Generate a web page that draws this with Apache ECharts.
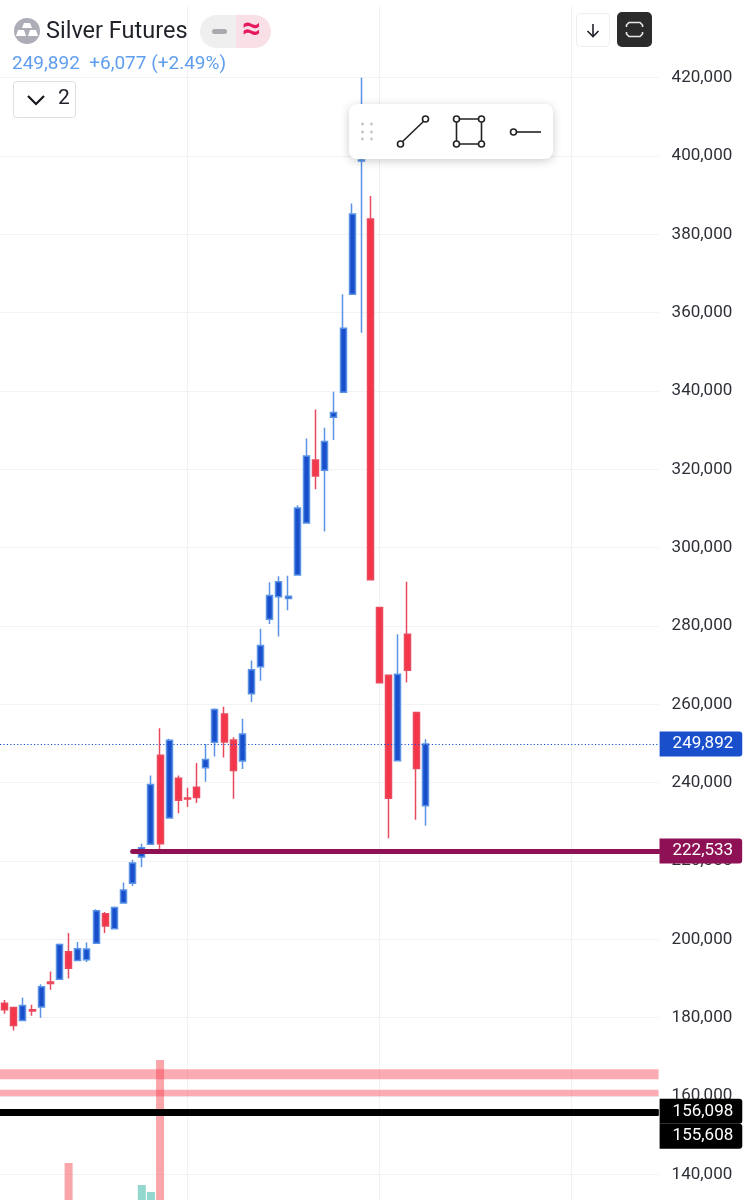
<!DOCTYPE html>
<html>
<head>
<meta charset="utf-8">
<title>Silver Futures</title>
<style>
    html, body { margin: 0; padding: 0; background: #fff; }
    #chart { width: 750px; height: 1200px; }
</style>
<script src="https://cdn.jsdelivr.net/npm/echarts@6/dist/echarts.min.js"></script>
</head>
<body>
<div id="chart"></div>
<script>
var candleOpen = [183700, 182600, 179300, 182000, 182700, 189100, 189800, 196800, 194600, 194800, 199000, 206500, 202700, 209300, 214300, 221000,
    224300, 247000, 231000, 241100, 236100, 238800, 243800, 250300, 257500, 250900, 245500,
    262700, 269600, 281700, 287500, 287000, 293000, 306300, 322400, 319800, 333300,
    339700, 364700, 398700, 383900, 284700, 267400, 245600, 277900, 257900, 234100];
var candleClose = [182000, 178000, 183100, 181700, 187900, 188700, 198700, 192600, 197600, 197500, 207300, 203400, 208100, 212600, 219500, 223400,
    239500, 224400, 250800, 235500, 235800, 236200, 245900, 258700, 250400, 243100, 252400,
    268800, 275000, 287800, 291300, 287600, 310100, 323400, 318300, 327100, 334500,
    356000, 385200, 399000, 291800, 265500, 236000, 267700, 268700, 243600, 249892];
var candleLow = [181000, 176700, 179300, 180500, 180000, 187100, 189800, 190000, 194600, 194200, 199000, 201600, 202700, 209300, 213600, 218400,
    224300, 222400, 231000, 232200, 233800, 234800, 240200, 246700, 246400, 235900, 243500,
    260600, 266000, 280500, 277300, 284000, 293000, 306300, 314900, 304100, 327500,
    339700, 364700, 354900, 291800, 265500, 225800, 245600, 265600, 230500, 229000];
var candleHigh = [184500, 182600, 185100, 183300, 188500, 191800, 198900, 201600, 199300, 199200, 207700, 207000, 208400, 214500, 220300, 224400,
    241800, 253900, 251200, 241800, 238700, 245000, 249900, 259000, 259400, 251600, 256300,
    271200, 279300, 291200, 292700, 292800, 310800, 327900, 335300, 330600, 339800,
    364700, 387900, 420000, 389800, 284700, 267400, 277900, 291300, 257900, 251100];

// only the volume bars that reach into the picture
var volumeIndex = [7, 15, 16, 17];
var volumeValue = [37, 15, 8, 140];

var lastPrice = 249892;
var purpleLevel = 222533;
var blackLevels = [156098, 155608];
var pinkBands = [[166800, 164300], [161600, 159900]];
var timeGridIndex = [20, 41, 62];

var slotCount = 72;
var categories = [];
for (var i = 0; i < slotCount; i++) categories.push('' + (i + 1));

var candleData = [];
for (var i = 0; i < candleOpen.length; i++) {
    candleData.push([candleOpen[i], candleClose[i], candleLow[i], candleHigh[i]]);
}

var volumeData = [];
for (var i = 0; i < slotCount; i++) volumeData.push(null);
for (var i = 0; i < volumeIndex.length; i++) {
    var idx = volumeIndex[i];
    volumeData[idx] = {
        value: volumeValue[i],
        itemStyle: { color: candleClose[idx] >= candleOpen[idx] ? 'rgba(120,205,195,0.8)' : 'rgba(245,100,108,0.58)' }
    };
}

function fmt(v) {
    return v.toLocaleString('en-US');
}

function priceTag(v, bg, offset) {
    return {
        show: true,
        position: 'end',
        distance: 1,
        offset: offset || [0, 0],
        formatter: fmt(v),
        color: '#fff',
        fontFamily: 'Roboto',
        fontSize: 17,
        lineHeight: 17,
        backgroundColor: bg,
        borderRadius: [0, 3, 3, 0],
        padding: [4, 9, 4, 13]
    };
}

// time grid lines sit on the volume grid, it is the one that spans the whole height
var timeLines = [];
for (var i = 0; i < timeGridIndex.length; i++) {
    timeLines.push({ xAxis: categories[timeGridIndex[i]] });
}

var levelLines = [];
levelLines.push({ yAxis: lastPrice, lineStyle: { color: '#1b4fd0', width: 1.2, type: [1.2, 2.2] }, label: priceTag(lastPrice, '#1a4fcc') });
levelLines.push([
    { xAxis: categories[14], yAxis: purpleLevel, lineStyle: { color: '#8f1155', width: 5, type: 'solid', cap: 'round' }, label: priceTag(purpleLevel, '#8f1155') },
    { x: '87.8%', yAxis: purpleLevel }
]);
levelLines.push({ yAxis: blackLevels[0], lineStyle: { color: '#000', width: 6, type: 'solid' }, label: priceTag(blackLevels[0], '#000') });
levelLines.push({ yAxis: blackLevels[1], lineStyle: { color: '#000', width: 6, type: 'solid' }, label: priceTag(blackLevels[1], '#000', [0, 23]) });

var bandAreas = [];
for (var i = 0; i < pinkBands.length; i++) {
    bandAreas.push([{ yAxis: pinkBands[i][0] }, { yAxis: pinkBands[i][1] }]);
}

var chart = echarts.init(document.getElementById('chart'));

var option = {
    animation: false,
    backgroundColor: '#fff',
    title: [
        {
            text: 'Silver Futures',
            left: 46,
            top: 20,
            padding: 0,
            textStyle: { fontFamily: 'Roboto', fontSize: 23.5, fontWeight: 'normal', color: '#1f2229' }
        },
        {
            text: '249,892  +6,077 (+2.49%)',
            left: 12,
            top: 55,
            padding: 0,
            textStyle: { fontFamily: 'Roboto', fontSize: 19, fontWeight: 'normal', color: '#5f9eee' }
        }
    ],
    grid: [
        { left: -1.6, width: 660.2, top: 77.7, height: 1096.6 },
        { left: -1.6, width: 660.2, top: 6, height: 1194 }
    ],
    xAxis: [
        { type: 'category', data: categories, show: false, gridIndex: 0 },
        { type: 'category', data: categories, show: false, gridIndex: 1 }
    ],
    yAxis: [
        {
            type: 'value',
            gridIndex: 0,
            position: 'right',
            min: 140000,
            max: 420000,
            interval: 20000,
            axisLine: { show: false },
            axisTick: { show: false },
            splitLine: { show: true, lineStyle: { color: '#f2f3f5', width: 1 } },
            axisLabel: {
                margin: 13,
                color: '#2e3038',
                fontFamily: 'Roboto',
                fontSize: 17,
                padding: [0, 0, 3, 0],
                formatter: function (v) { return fmt(v); }
            }
        },
        { type: 'value', gridIndex: 1, min: 0, max: 1194, show: false }
    ],
    series: [
        {
            type: 'bar',
            name: 'Volume',
            xAxisIndex: 1,
            yAxisIndex: 1,
            barWidth: 8,
            data: volumeData,
            z: 1,
            markLine: {
                silent: true,
                z: 0,
                symbol: ['none', 'none'],
                label: { show: false },
                lineStyle: { color: '#f1f2f4', width: 1, type: 'solid' },
                data: timeLines
            }
        },
        {
            type: 'candlestick',
            name: 'Silver Futures',
            xAxisIndex: 0,
            yAxisIndex: 0,
            barWidth: 6.5,
            z: 3,
            data: candleData,
            itemStyle: {
                color: '#1a4fcc',
                color0: '#f5364a',
                borderColor: '#5a93e6',
                borderColor0: '#e94a5e',
                borderWidth: 1.5
            },
            markArea: {
                silent: true,
                z: 2,
                itemStyle: { color: 'rgba(248,72,88,0.46)' },
                data: bandAreas
            },
            markLine: {
                silent: true,
                z: 5,
                symbol: ['none', 'none'],
                label: { show: false },
                data: levelLines
            }
        }
    ],
    graphic: [
        // symbol badge
        { type: 'circle', shape: { cx: 27, cy: 31, r: 13 }, style: { fill: '#adadb8' }, z: 20 },
        { type: 'polygon', shape: { points: [[24, 23], [30, 23], [32, 28], [22, 28]] }, style: { fill: '#fff' }, z: 21 },
        { type: 'polygon', shape: { points: [[18, 30], [24, 30], [26, 36], [16, 36]] }, style: { fill: '#fff' }, z: 21 },
        { type: 'polygon', shape: { points: [[30, 30], [36, 30], [38, 36], [28, 36]] }, style: { fill: '#fff' }, z: 21 },

        // pill
        { type: 'rect', shape: { x: 200, y: 15, width: 36, height: 33, r: [16.5, 0, 0, 16.5] }, style: { fill: '#efeff0' }, z: 20 },
        { type: 'rect', shape: { x: 236, y: 15, width: 35, height: 33, r: [0, 16.5, 16.5, 0] }, style: { fill: '#f9dfe6' }, z: 20 },
        { type: 'rect', shape: { x: 212, y: 29, width: 15, height: 5, r: 2.5 }, style: { fill: '#a9a9ae' }, z: 21 },
        {
            type: 'text', x: 251.5, y: 31,
            style: { text: '≈', fill: '#e5195f', font: 'bold 33px Roboto, "DejaVu Sans"', align: 'center', verticalAlign: 'middle' },
            z: 21
        },

        // collapse box
        { type: 'rect', shape: { x: 13.5, y: 81.5, width: 62, height: 36, r: 3 }, style: { fill: '#fff', stroke: '#dfdfe2', lineWidth: 1 }, z: 20 },
        { type: 'polyline', shape: { points: [[28, 96], [36, 104], [44, 96]] }, style: { stroke: '#15171c', lineWidth: 2.2, fill: null }, z: 21 },
        {
            type: 'text', x: 64, y: 99,
            style: { text: '2', fill: '#1f2229', font: '21px Roboto', align: 'center', verticalAlign: 'middle' },
            z: 21
        },

        // top right buttons
        { type: 'rect', shape: { x: 576.5, y: 13.5, width: 33, height: 33, r: 4 }, style: { fill: '#fff', stroke: '#eeeeef', lineWidth: 1 }, z: 20 },
        { type: 'polyline', shape: { points: [[593, 24], [593, 36]] }, style: { stroke: '#1f2229', lineWidth: 1.6, fill: null }, z: 21 },
        { type: 'polyline', shape: { points: [[587.5, 31], [593, 36.5], [598.5, 31]] }, style: { stroke: '#1f2229', lineWidth: 1.6, fill: null }, z: 21 },
        { type: 'rect', shape: { x: 617, y: 12, width: 35, height: 35, r: 5 }, style: { fill: '#2b2b2b' }, z: 20 },
        { type: 'polyline', shape: { points: [[626.5, 27], [626.5, 25], [629, 22.5], [640, 22.5], [642.5, 25], [642.5, 27]] }, style: { stroke: '#e9e9e9', lineWidth: 1.6, fill: null }, z: 21 },
        { type: 'polyline', shape: { points: [[626.5, 32], [626.5, 34], [629, 36.5], [640, 36.5], [642.5, 34], [642.5, 32]] }, style: { stroke: '#e9e9e9', lineWidth: 1.6, fill: null }, z: 21 },

        // drawing toolbar
        {
            type: 'rect',
            shape: { x: 349, y: 104, width: 204, height: 55, r: 8 },
            style: { fill: '#fff', shadowBlur: 10, shadowColor: 'rgba(0,0,0,0.2)', shadowOffsetY: 2 },
            z: 30
        },
        { type: 'circle', shape: { cx: 362.5, cy: 124, r: 1.4 }, style: { fill: '#c5c5c8' }, z: 31 },
        { type: 'circle', shape: { cx: 371.5, cy: 124, r: 1.4 }, style: { fill: '#c5c5c8' }, z: 31 },
        { type: 'circle', shape: { cx: 362.5, cy: 132, r: 1.4 }, style: { fill: '#c5c5c8' }, z: 31 },
        { type: 'circle', shape: { cx: 371.5, cy: 132, r: 1.4 }, style: { fill: '#c5c5c8' }, z: 31 },
        { type: 'circle', shape: { cx: 362.5, cy: 139, r: 1.4 }, style: { fill: '#c5c5c8' }, z: 31 },
        { type: 'circle', shape: { cx: 371.5, cy: 139, r: 1.4 }, style: { fill: '#c5c5c8' }, z: 31 },

        { type: 'line', shape: { x1: 400, y1: 144, x2: 426, y2: 119 }, style: { stroke: '#222', lineWidth: 1.6 }, z: 31 },
        { type: 'circle', shape: { cx: 400.5, cy: 144, r: 3 }, style: { fill: '#fff', stroke: '#222', lineWidth: 1.6 }, z: 32 },
        { type: 'circle', shape: { cx: 425.5, cy: 119, r: 3 }, style: { fill: '#fff', stroke: '#222', lineWidth: 1.6 }, z: 32 },

        { type: 'rect', shape: { x: 456.5, y: 119, width: 25, height: 25 }, style: { fill: null, stroke: '#222', lineWidth: 1.6 }, z: 31 },
        { type: 'circle', shape: { cx: 456.5, cy: 119, r: 3 }, style: { fill: '#fff', stroke: '#222', lineWidth: 1.6 }, z: 32 },
        { type: 'circle', shape: { cx: 481.5, cy: 119, r: 3 }, style: { fill: '#fff', stroke: '#222', lineWidth: 1.6 }, z: 32 },
        { type: 'circle', shape: { cx: 456.5, cy: 144, r: 3 }, style: { fill: '#fff', stroke: '#222', lineWidth: 1.6 }, z: 32 },
        { type: 'circle', shape: { cx: 481.5, cy: 144, r: 3 }, style: { fill: '#fff', stroke: '#222', lineWidth: 1.6 }, z: 32 },

        { type: 'line', shape: { x1: 516, y1: 132, x2: 541, y2: 132 }, style: { stroke: '#222', lineWidth: 1.6 }, z: 31 },
        { type: 'circle', shape: { cx: 513.5, cy: 132, r: 3 }, style: { fill: '#fff', stroke: '#222', lineWidth: 1.6 }, z: 32 }
    ]
};

chart.setOption(option);
</script>
</body>
</html>
